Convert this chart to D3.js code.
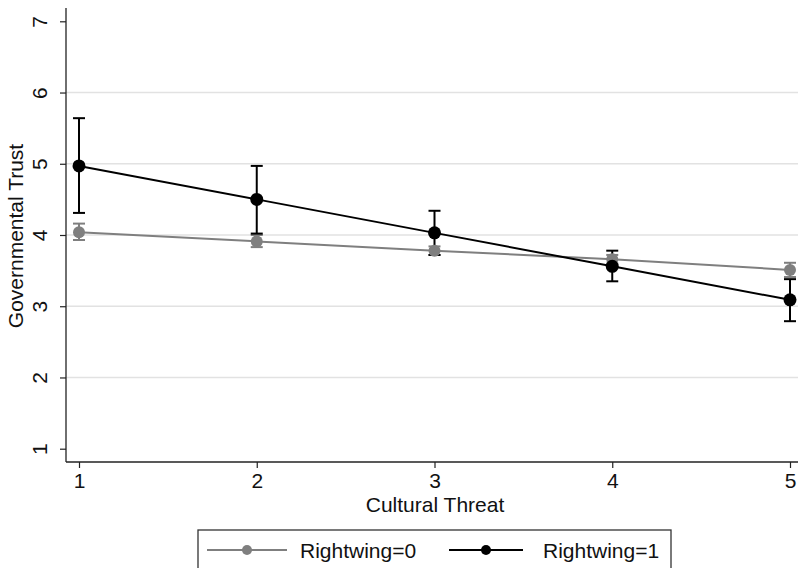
<!DOCTYPE html>
<html><head><meta charset="utf-8">
<script src="https://cdn.jsdelivr.net/npm/d3@7"></script>
<style>body{margin:0;background:#fff}svg{display:block}text{font-family:"Liberation Sans",Arial,sans-serif;fill:#111}</style>
</head><body><svg id="c" width="798" height="568"></svg>
<script>
const threat = [1, 2, 3, 4, 5];
const yTicks = [1, 2, 3, 4, 5, 6, 7];
const xTicks = [1, 2, 3, 4, 5];
const seriesNames = ["Rightwing=0", "Rightwing=1"];
const rw0 = [4.04, 3.91, 3.78, 3.66, 3.51];
const rw0Lo = [3.93, 3.83, 3.72, 3.60, 3.41];
const rw0Hi = [4.16, 4.00, 3.84, 3.72, 3.61];
const rw1 = [4.97, 4.50, 4.03, 3.56, 3.09];
const rw1Lo = [4.31, 4.02, 3.72, 3.35, 2.79];
const rw1Hi = [5.64, 4.97, 4.34, 3.78, 3.38];
const colors = ["#7f7f7f", "#000000"];

(function(){
const svg = d3.select("#c");
const x = d3.scaleLinear().domain([1, 5]).range([79, 790]);
const y = d3.scaleLinear().domain([1, 7]).range([448.7, 21.3]);
const pLeft = 66, pBottom = 462, pTop = 8, pRight = 798;
const fs = 21;

svg.append("g").selectAll("line").data([2,3,4,5,6]).join("line")
  .attr("x1", pLeft).attr("x2", pRight).attr("y1", d => y(d)).attr("y2", d => y(d))
  .attr("stroke", "#e2e2e2").attr("stroke-width", 1.5);

const yAxis = d3.axisLeft(y).tickValues(yTicks).tickSize(6).tickFormat(d3.format("d"));
const gy = svg.append("g").attr("transform", `translate(${pLeft},0)`).call(yAxis);
gy.select(".domain").remove();
gy.selectAll(".tick line").attr("stroke", "#222").attr("stroke-width", 1.2);
gy.selectAll(".tick text").attr("font-size", fs).attr("text-anchor", "middle")
  .attr("x", 0).attr("y", 0).attr("dy", null)
  .attr("transform", "translate(-19,0) rotate(-90)");

const xAxis = d3.axisBottom(x).tickValues(xTicks).tickSize(6).tickPadding(5).tickFormat(d3.format("d"));
const gx = svg.append("g").attr("transform", `translate(0,${pBottom})`).call(xAxis);
gx.select(".domain").remove();
gx.selectAll(".tick line").attr("stroke", "#222").attr("stroke-width", 1.2);
gx.selectAll(".tick text").attr("font-size", fs).attr("dy", "0.72em");

svg.append("line").attr("x1", pLeft).attr("x2", pLeft).attr("y1", pTop).attr("y2", pBottom)
  .attr("stroke", "#222").attr("stroke-width", 1.3);
svg.append("line").attr("x1", pLeft).attr("x2", pRight).attr("y1", pBottom).attr("y2", pBottom)
  .attr("stroke", "#222").attr("stroke-width", 1.3);

svg.append("text").attr("transform", `translate(23,236) rotate(-90)`).attr("text-anchor", "middle")
  .attr("font-size", fs).text("Governmental Trust");
svg.append("text").attr("x", 435).attr("y", 512).attr("text-anchor", "middle")
  .attr("font-size", fs).text("Cultural Threat");

const series = [
  {name: seriesNames[0], v: rw0, lo: rw0Lo, hi: rw0Hi, c: colors[0], r: 6, w: 2},
  {name: seriesNames[1], v: rw1, lo: rw1Lo, hi: rw1Hi, c: colors[1], r: 6.5, w: 2}
];
const cap = 6;
series.forEach(s => {
  const g = svg.append("g").attr("stroke", s.c).attr("stroke-width", 2);
  threat.forEach((t, i) => {
    g.append("line").attr("x1", x(t)).attr("x2", x(t)).attr("y1", y(s.lo[i])).attr("y2", y(s.hi[i]));
    g.append("line").attr("x1", x(t)-cap).attr("x2", x(t)+cap).attr("y1", y(s.lo[i])).attr("y2", y(s.lo[i]));
    g.append("line").attr("x1", x(t)-cap).attr("x2", x(t)+cap).attr("y1", y(s.hi[i])).attr("y2", y(s.hi[i]));
  });
});
const line = d3.line().x((d, i) => x(threat[i])).y(d => y(d));
series.forEach(s => {
  svg.append("path").attr("d", line(s.v)).attr("fill", "none").attr("stroke", s.c).attr("stroke-width", s.w);
  svg.append("g").selectAll("circle").data(s.v).join("circle")
    .attr("cx", (d, i) => x(threat[i])).attr("cy", d => y(d)).attr("r", s.r).attr("fill", s.c);
});

svg.append("rect").attr("x", 198).attr("y", 530).attr("width", 473).attr("height", 50)
  .attr("fill", "#fff").attr("stroke", "#333").attr("stroke-width", 1.3);
const lg = [{x0: 207, x1: 287, tx: 300}, {x0: 449, x1: 523, tx: 543}];
series.forEach((s, i) => {
  const L = lg[i], ly = 550;
  svg.append("line").attr("x1", L.x0).attr("x2", L.x1).attr("y1", ly).attr("y2", ly)
    .attr("stroke", s.c).attr("stroke-width", 2);
  svg.append("circle").attr("cx", (L.x0 + L.x1) / 2).attr("cy", ly).attr("r", 5).attr("fill", s.c);
  svg.append("text").attr("x", L.tx).attr("y", ly).attr("dy", "0.36em").attr("font-size", fs).text(s.name);
});
})();
</script></body></html>
